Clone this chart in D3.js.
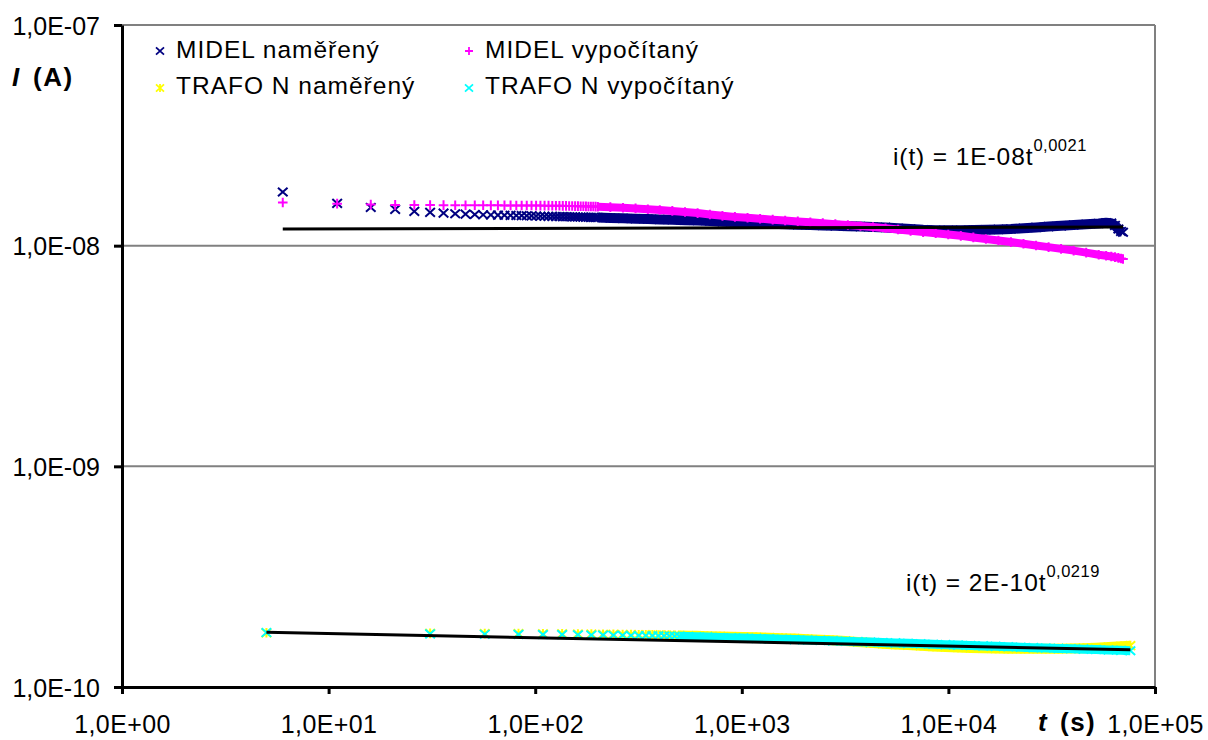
<!DOCTYPE html>
<html><head><meta charset="utf-8">
<script src="https://cdn.jsdelivr.net/npm/d3@7"></script>
<style>
body{margin:0;background:#fff}
svg{display:block}
text{font-family:Arial,"Liberation Sans",sans-serif;fill:#000}
</style>
</head><body>
<svg id="c" width="1208" height="740"></svg>
<script>
// ---------------- DATA ----------------
const xTicks = [1, 10, 100, 1000, 10000, 100000];
const xTickLabels = ["1,0E+00", "1,0E+01", "1,0E+02", "1,0E+03", "1,0E+04", "1,0E+05"];
const yTicks = [1e-10, 1e-9, 1e-8, 1e-7];
const yTickLabels = ["1,0E-10", "1,0E-09", "1,0E-08", "1,0E-07"];
const gridValues = [1e-9, 1e-8];

const seriesNames = ["MIDEL naměřený", "MIDEL vypočítaný", "TRAFO N naměřený", "TRAFO N vypočítaný"];

// MIDEL time (s)
const tMidel = [6, 11, 16, 21, 26, 31, 36, 41, 46, 51, 56, 61, 66, 71, 76, 81, 86, 91, 96, 101,
  106, 111, 116, 121, 126, 131, 136, 141, 146, 151, 156, 161, 166, 171, 176, 181, 186, 191, 196, 201,
  231, 266, 306, 351, 401, 461, 531, 611, 701, 806, 926, 1066, 1226, 1411, 1621, 1866, 2146, 2466,
  2836, 3261, 3751, 4316, 4961, 5706, 6561, 7546, 8681, 9981, 11481, 13201, 15181, 17461, 20081,
  23091, 26556, 30541, 35121, 40391, 46446, 53411, 58000, 61421, 64000, 66500, 68500, 70000];
const midelUnit = 1e-8;
// MIDEL naměřený (x 1e-8 A)
const midelMeasured = [1.75, 1.555, 1.49, 1.46, 1.43, 1.415, 1.405, 1.395, 1.39, 1.385, 1.38, 1.378, 1.376, 1.374, 1.372, 1.37, 1.368, 1.366, 1.364, 1.362,
  1.36, 1.359, 1.358, 1.357, 1.356, 1.355, 1.354, 1.353, 1.352, 1.351, 1.35, 1.349, 1.348, 1.347, 1.346, 1.345, 1.344, 1.343, 1.342, 1.341,
  1.335, 1.33, 1.325, 1.32, 1.315, 1.31, 1.305, 1.30, 1.293, 1.285, 1.28, 1.272, 1.265, 1.258, 1.25, 1.245, 1.24, 1.235,
  1.23, 1.225, 1.22, 1.215, 1.21, 1.2, 1.19, 1.18, 1.175, 1.175, 1.175, 1.178, 1.18, 1.185, 1.19,
  1.20, 1.21, 1.22, 1.23, 1.24, 1.25, 1.26, 1.27, 1.265, 1.235, 1.19, 1.16, 1.15];
// MIDEL vypočítaný (x 1e-8 A)
const midelCalc = [1.57, 1.55, 1.535, 1.53, 1.528, 1.527, 1.526, 1.525, 1.525, 1.524, 1.524, 1.523, 1.523, 1.522, 1.522, 1.521, 1.521, 1.52, 1.52, 1.519,
  1.519, 1.518, 1.518, 1.517, 1.517, 1.516, 1.515, 1.514, 1.513, 1.512, 1.511, 1.51, 1.509, 1.508, 1.507, 1.506, 1.505, 1.504, 1.503, 1.502,
  1.495, 1.485, 1.475, 1.462, 1.45, 1.437, 1.422, 1.405, 1.385, 1.365, 1.35, 1.338, 1.325, 1.312, 1.30, 1.288, 1.277, 1.265,
  1.252, 1.24, 1.228, 1.215, 1.20, 1.183, 1.167, 1.152, 1.138, 1.124, 1.108, 1.09, 1.072, 1.055, 1.038,
  1.02, 1.002, 0.985, 0.967, 0.95, 0.93, 0.91, 0.90, 0.893, 0.887, 0.88, 0.875, 0.87];

// TRAFO N time (s)
const tTrafo = [5, 31, 57, 83, 109, 135, 161, 187, 213, 239, 265, 291, 317, 343, 369, 395, 421, 447, 473, 499,
  551, 603, 681, 785, 889, 1019, 1175, 1357, 1565, 1799, 2085, 2397, 2761, 3177, 3645, 4191, 4815, 5543,
  6375, 7337, 8429, 9677, 11133, 12797, 14721, 16931, 19479, 22391, 25745, 29619, 34065, 39161, 45037,
  51797, 59555, 68485, 76000];
const trafoUnit = 1e-10;
// TRAFO N naměřený (x 1e-10 A)
const trafoMeasured = [1.76, 1.75, 1.745, 1.745, 1.742, 1.74, 1.738, 1.736, 1.734, 1.732, 1.73, 1.728, 1.726, 1.724, 1.722, 1.72, 1.718, 1.716, 1.714, 1.712,
  1.708, 1.705, 1.70, 1.695, 1.69, 1.685, 1.68, 1.673, 1.665, 1.657, 1.648, 1.638, 1.627, 1.615, 1.60, 1.585, 1.572, 1.56,
  1.548, 1.537, 1.527, 1.518, 1.51, 1.503, 1.498, 1.494, 1.492, 1.49, 1.49, 1.49, 1.492, 1.495, 1.50,
  1.507, 1.517, 1.53, 1.54];
// TRAFO N vypočítaný (x 1e-10 A)
const trafoCalc = [1.765, 1.74, 1.735, 1.732, 1.73, 1.727, 1.724, 1.721, 1.718, 1.716, 1.714, 1.712, 1.71, 1.708, 1.706, 1.704, 1.702, 1.70, 1.698, 1.696,
  1.692, 1.688, 1.683, 1.677, 1.672, 1.666, 1.66, 1.653, 1.646, 1.64, 1.633, 1.626, 1.619, 1.612, 1.605, 1.598, 1.591, 1.584,
  1.577, 1.57, 1.563, 1.556, 1.549, 1.542, 1.535, 1.528, 1.521, 1.515, 1.508, 1.502, 1.496, 1.49, 1.484,
  1.478, 1.472, 1.466, 1.46];

// Trend lines (power fits, straight on log-log): endpoints [t, I]
const trendMidel = [[6, 1.19e-8], [70000, 1.215e-8]];
const trendTrafo = [[5, 1.77e-10], [76000, 1.475e-10]];
const trendLabels = [
  {main: "i(t) = 1E-08t", sup: "0,0021"},
  {main: "i(t) = 2E-10t", sup: "0,0219"}
];

// ---------------- CHART ----------------
const svg = d3.select("#c");
const L = 122, R = 1155, T = 25, B = 687;
const x = d3.scaleLog().domain([1, 1e5]).range([L, R]);
const y = d3.scaleLog().domain([1e-10, 1e-7]).range([B, T]);

const gridG = svg.append("g");
gridG.selectAll("line").data(gridValues).enter().append("line")
  .attr("x1", L).attr("x2", R).attr("y1", d => y(d)).attr("y2", d => y(d))
  .attr("stroke", "#808080").attr("stroke-width", 2);
gridG.append("line").attr("x1", L).attr("x2", R).attr("y1", T).attr("y2", T)
  .attr("stroke", "#808080").attr("stroke-width", 2);
gridG.append("line").attr("x1", R).attr("x2", R).attr("y1", T).attr("y2", B)
  .attr("stroke", "#808080").attr("stroke-width", 2);

const markers = {
  cross: s => `M${-s},${-s * 0.9}L${s},${s * 0.9}M${-s},${s * 0.9}L${s},${-s * 0.9}`,
  plus: s => `M${-s},0L${s},0M0,${-s}L0,${s}`,
  star: s => `M${-s},${-s * 0.9}L${s},${s * 0.9}M${-s},${s * 0.9}L${s},${-s * 0.9}M0,${-s}L0,${s}`
};

const dataG = svg.append("g");
function drawSeries(ts, vs, unit, o) {
  const data = ts.map((t, i) => ({t: t, v: vs[i] * unit}));
  const band = data.filter(d => d.t >= o.bandFrom);
  dataG.append("path").datum(band)
    .attr("d", d3.line().x(d => x(d.t)).y(d => y(d.v)))
    .attr("fill", "none").attr("stroke", o.color).attr("stroke-width", o.bandW)
    .attr("stroke-linejoin", "round");
  dataG.append("g").selectAll("path").data(data).enter().append("path")
    .attr("transform", d => `translate(${x(d.t)},${y(d.v)})`)
    .attr("d", o.marker(o.size))
    .attr("fill", "none").attr("stroke", o.color).attr("stroke-width", 2);
}

const colors = ["#000080", "#FF00FF", "#FFFF00", "#00FFFF"];
drawSeries(tMidel, midelMeasured, midelUnit, {color: colors[0], marker: markers.cross, size: 4.8, bandFrom: 201, bandW: 10});
drawSeries(tMidel, midelCalc, midelUnit, {color: colors[1], marker: markers.plus, size: 4.8, bandFrom: 201, bandW: 8});
drawSeries(tTrafo, trafoMeasured, trafoUnit, {color: colors[2], marker: markers.star, size: 4.8, bandFrom: 499, bandW: 10});
drawSeries(tTrafo, trafoCalc, trafoUnit, {color: colors[3], marker: markers.cross, size: 4.8, bandFrom: 499, bandW: 9});

// trend lines
[trendMidel, trendTrafo].forEach(tr => {
  dataG.append("path").datum(tr)
    .attr("d", d3.line().x(d => x(d[0])).y(d => y(d[1])))
    .attr("fill", "none").attr("stroke", "#000").attr("stroke-width", 3);
});

// axes
const xAxis = d3.axisBottom(x).tickValues(xTicks).tickFormat((d, i) => xTickLabels[i])
  .tickSize(7).tickSizeOuter(0);
const gx = svg.append("g").attr("transform", `translate(0,${B})`).call(xAxis);
gx.select(".domain").attr("stroke", "#000").attr("stroke-width", 3);
gx.selectAll(".tick line").attr("stroke", "#000").attr("stroke-width", 3);
gx.selectAll(".tick text").attr("y", 46).attr("dy", 0).attr("font-size", 25)
  .attr("letter-spacing", 0.4)
  .attr("font-family", "Arial, 'Liberation Sans', sans-serif").attr("fill", "#000");

const yAxis = d3.axisLeft(y).tickValues(yTicks).tickFormat((d, i) => yTickLabels[i])
  .tickSize(8).tickSizeOuter(0);
const gy = svg.append("g").attr("transform", `translate(${L},0)`).call(yAxis);
gy.select(".domain").attr("stroke", "#000").attr("stroke-width", 3);
gy.selectAll(".tick line").attr("stroke", "#000").attr("stroke-width", 3);
gy.selectAll(".tick text").attr("x", -22).attr("dy", 0).attr("y", 9).attr("font-size", 25)
  .attr("font-family", "Arial, 'Liberation Sans', sans-serif").attr("fill", "#000");

// axis titles
const yl = svg.append("text").attr("x", 12).attr("y", 86).attr("font-size", 26)
  .attr("font-weight", "bold").attr("letter-spacing", 1.5);
yl.append("tspan").attr("font-style", "italic").text("I");
yl.append("tspan").attr("x", 33).text("(A)");
const xl = svg.append("text").attr("x", 1038).attr("y", 731).attr("font-size", 26)
  .attr("font-weight", "bold").attr("letter-spacing", 1.5);
xl.append("tspan").attr("font-style", "italic").text("t");
xl.append("tspan").attr("x", 1060).text("(s)");

// trend labels
const eqPos = [[893, 165], [906, 591]];
trendLabels.forEach((lab, i) => {
  const t = svg.append("text").attr("x", eqPos[i][0]).attr("y", eqPos[i][1])
    .attr("font-size", 24.5).attr("letter-spacing", 0.9);
  t.append("tspan").text(lab.main);
  t.append("tspan").attr("dy", -14).attr("font-size", 16.5).attr("letter-spacing", 0.5).text(lab.sup);
});

// legend
const legendPos = [[160, 51, 176, 58], [469, 51, 485, 58], [160, 88, 176, 94], [469, 88, 485, 94]];
const legendMarkers = [markers.cross, markers.plus, markers.star, markers.cross];
const lg = svg.append("g");
seriesNames.forEach((name, i) => {
  const p = legendPos[i];
  lg.append("path").attr("transform", `translate(${p[0]},${p[1]})`)
    .attr("d", legendMarkers[i](4)).attr("fill", "none")
    .attr("stroke", colors[i]).attr("stroke-width", 1.8);
  lg.append("text").attr("x", p[2]).attr("y", p[3]).attr("font-size", 24.5)
    .attr("letter-spacing", 1).text(name);
});
</script>
</body></html>
